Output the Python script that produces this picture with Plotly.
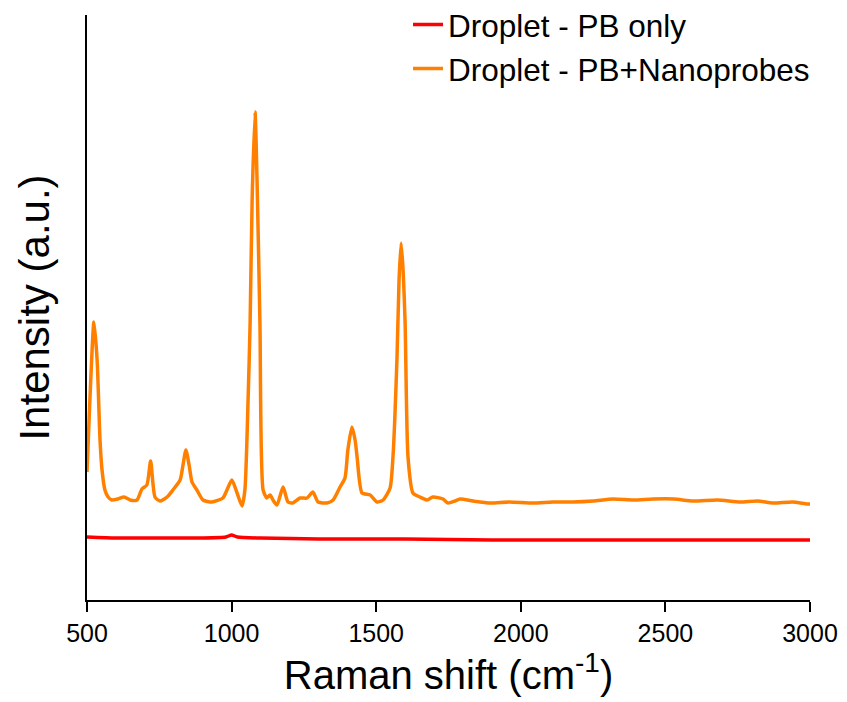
import plotly.graph_objects as go

# Raman shift (cm-1) and intensity (a.u.)
nano_x = [500, 510, 524, 535, 545, 552, 562, 573, 586, 607, 628, 649, 673, 690, 707, 720,
          735, 752, 777, 797, 822, 832, 842, 853, 863, 880, 901, 932, 970, 984, 1001, 1019,
          1036, 1046, 1057, 1064, 1071, 1081, 1088, 1098, 1109, 1122, 1133, 1143, 1157, 1178,
          1195, 1212, 1237, 1261, 1281, 1299, 1330, 1351, 1375, 1392, 1402, 1416, 1427, 1434,
          1451, 1479, 1503, 1524, 1548, 1558, 1572, 1579, 1586, 1593, 1600, 1610, 1627, 1651,
          1676, 1696, 1731, 1748, 1772, 1790, 1835, 1894, 1960, 2042, 2110, 2180, 2250, 2319,
          2390, 2457, 2530, 2595, 2680, 2758, 2820, 2872, 2940, 2990, 3000]
nano_y = [128, 200, 278, 240, 160, 130, 110, 103, 100, 101, 103, 100, 100, 111, 115, 139,
          103, 99, 103, 110, 120, 135, 150, 135, 118, 110, 100, 98, 102, 110, 120, 107,
          94, 110, 200, 277, 400, 488, 420, 277, 110, 102, 105, 100, 95, 113,
          98, 97, 102, 102, 108, 98, 97, 100, 113, 122, 150, 173, 160, 143,
          107, 105, 98, 100, 112, 143, 243, 320, 357, 330, 277, 143, 107, 103,
          100, 103, 101, 97, 99, 101, 99, 97, 98, 97, 98, 98, 99, 101,
          100, 101, 101, 99, 100, 98, 99, 97, 98, 96, 96]

pb_x = [500, 600, 700, 800, 900, 980, 1000, 1020, 1100, 1300, 1600, 1900, 2200, 2500, 2800, 3000]
pb_y = [63, 62, 62, 62, 62, 63, 65, 63, 62, 61, 61, 60, 60, 60, 60, 60]

FONT = "Liberation Sans, Arial, sans-serif"

fig = go.Figure()
fig.add_trace(go.Scatter(x=pb_x, y=pb_y, mode="lines", name="Droplet - PB only",
                         line=dict(color="#ff0000", width=3.5, shape="spline", smoothing=0.6)))
fig.add_trace(go.Scatter(x=nano_x, y=nano_y, mode="lines", name="Droplet - PB+Nanoprobes",
                         line=dict(color="#ff8000", width=3.5, shape="spline", smoothing=0.6)))

fig.update_layout(
    width=847, height=702,
    margin=dict(l=87, r=37, t=15, b=102, autoexpand=False),
    paper_bgcolor="white", plot_bgcolor="white",
    font=dict(family=FONT, color="black"),
    showlegend=True,
    legend=dict(x=0.444, xanchor="left", y=1.03, yanchor="top",
                font=dict(size=31.5, family=FONT), bgcolor="rgba(0,0,0,0)",
                tracegroupgap=0),
    xaxis=dict(range=[500, 3000], tickvals=[500, 1000, 1500, 2000, 2500, 3000],
               ticks="outside", ticklen=10, tickwidth=2, tickcolor="black",
               showline=True, linecolor="black", linewidth=2, showgrid=False, zeroline=False,
               automargin=False,
               tickfont=dict(size=25, family=FONT),
               title=dict(text="Raman shift (cm<sup>-1</sup>)", font=dict(size=40, family=FONT),
                          standoff=14)),
    yaxis=dict(range=[0, 585], showticklabels=False, ticks="", automargin=False,
               showline=True, linecolor="black", linewidth=2, showgrid=False, zeroline=False,
               title=dict(text="Intensity (a.u.)", font=dict(size=42, family=FONT), standoff=22)),
)

fig.write_html("out.html")
